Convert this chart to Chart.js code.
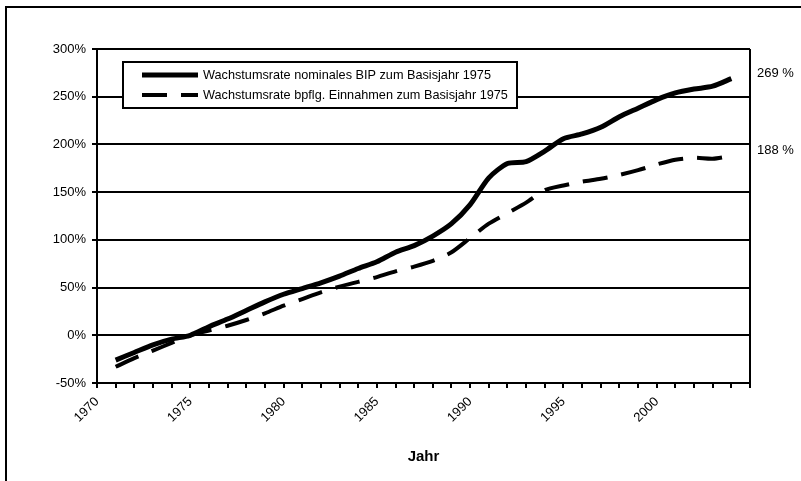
<!DOCTYPE html>
<html>
<head>
<meta charset="utf-8">
<script src="https://cdn.jsdelivr.net/npm/chart.js@4/dist/chart.umd.min.js"></script>
<style>
  html, body { margin: 0; padding: 0; background: #fff; }
  #wrap { width: 801px; height: 481px; }
</style>
</head>
<body>
<div id="wrap"><canvas id="chart" width="801" height="481"></canvas></div>
<script>
// values, growth in % against base year 1975
const years = [1971, 1972, 1973, 1974, 1975, 1976, 1977, 1978, 1979, 1980,
               1981, 1982, 1983, 1984, 1985, 1986, 1987, 1988, 1989, 1990,
               1991, 1992, 1993, 1994, 1995, 1996, 1997, 1998, 1999, 2000,
               2001, 2002, 2003, 2004];
const bipGrowth = [-26, -18, -10, -4, 0, 9, 17, 26, 35, 43,
                   49, 55, 62, 70, 77, 87, 94, 104, 117, 137,
                   165, 180, 182, 193, 206, 211, 218, 229, 238, 247,
                   254, 258, 261, 269];
const einnahmenGrowth = [-33, -24, -16, -8, 0, 5, 10, 16, 23, 31,
                         38, 45, 51, 56, 61, 67, 72, 78, 87, 102,
                         117, 128, 139, 152, 157, 161, 164, 168, 173, 179,
                         184, 186, 185, 188];
const seriesNames = ['Wachstumsrate nominales BIP zum Basisjahr 1975',
                     'Wachstumsrate bpflg. Einnahmen zum Basisjahr 1975'];
const endLabels = ['269 %', '188 %'];
const endValues = [269, 188];

const sans = '"Liberation Sans", Arial, sans-serif';
Chart.defaults.font.family = sans;
Chart.defaults.font.size = 13;
Chart.defaults.color = '#000';

// legend box inside the plot, frame lines and end labels
const extras = {
  id: 'extras',
  afterDatasetsDraw(chart) {
    const {ctx, chartArea: a} = chart;
    const ys = chart.scales.y;
    ctx.save();
    // right border of plot
    ctx.strokeStyle = '#000';
    ctx.lineWidth = 2;
    ctx.beginPath();
    ctx.moveTo(a.right, a.top);
    ctx.lineTo(a.right, a.bottom);
    ctx.stroke();
    // outer frame (top + left visible in the scan)
    ctx.beginPath();
    ctx.moveTo(6, 481);
    ctx.lineTo(6, 7);
    ctx.lineTo(801, 7);
    ctx.stroke();

    // legend
    const lx = a.left + 26, ly = a.top + 13, lw = 394, lh = 46;
    ctx.fillStyle = '#fff';
    ctx.fillRect(lx, ly, lw, lh);
    ctx.lineWidth = 2;
    ctx.strokeRect(lx, ly, lw, lh);
    chart.data.datasets.forEach((ds, i) => {
      const ry = ly + 13 + i * 20;
      ctx.beginPath();
      ctx.lineWidth = ds.borderWidth;
      ctx.setLineDash(ds.borderDash || []);
      ctx.lineCap = 'butt';
      ctx.moveTo(lx + 19, ry);
      ctx.lineTo(lx + 75, ry);
      ctx.stroke();
      ctx.setLineDash([]);
      ctx.fillStyle = '#000';
      ctx.font = '12.7px ' + sans;
      ctx.textBaseline = 'middle';
      ctx.textAlign = 'left';
      ctx.fillText(ds.label, lx + 80, ry);
    });

    // end labels right of the plot
    ctx.font = '13px ' + sans;
    endLabels.forEach((t, i) => {
      ctx.fillText(t, a.right + 7, ys.getPixelForValue(endValues[i]) - 5);
    });
    ctx.restore();
  }
};

new Chart(document.getElementById('chart'), {
  type: 'line',
  data: {
    datasets: [
      {
        label: seriesNames[0],
        data: years.map((yr, i) => ({x: yr, y: bipGrowth[i]})),
        borderColor: '#000',
        borderWidth: 5,
        pointRadius: 0,
        tension: 0.25,
        fill: false
      },
      {
        label: seriesNames[1],
        data: years.map((yr, i) => ({x: yr, y: einnahmenGrowth[i]})),
        borderColor: '#000',
        borderWidth: 4,
        borderDash: [25, 14],
        pointRadius: 0,
        tension: 0.25,
        fill: false
      }
    ]
  },
  options: {
    responsive: false,
    animation: false,
    devicePixelRatio: 1,
    layout: { padding: { top: 49, right: 51, left: 0, bottom: 0 } },
    plugins: { legend: { display: false }, tooltip: { enabled: false } },
    scales: {
      x: {
        type: 'linear',
        min: 1970,
        max: 2005,
        afterFit(s) { s.height = 98; },
        grid: { drawOnChartArea: false, color: '#000', lineWidth: 2, tickLength: 5 },
        border: { color: '#000', width: 2 },
        ticks: {
          stepSize: 1,
          autoSkip: false,
          minRotation: 45,
          maxRotation: 45,
          padding: 6,
          callback: v => (v % 5 === 0 && v < 2005) ? String(v) : ''
        },
        title: {
          display: true,
          text: 'Jahr',
          font: { size: 15, weight: 'bold' },
          padding: { top: 0, bottom: 15 }
        }
      },
      y: {
        min: -50,
        max: 300,
        afterFit(s) { s.width = 97; },
        grid: { color: '#000', lineWidth: 2, tickLength: 5 },
        border: { color: '#000', width: 2 },
        ticks: {
          stepSize: 50,
          padding: 6,
          callback: v => v + '%'
        }
      }
    }
  },
  plugins: [extras]
});
</script>
</body>
</html>
